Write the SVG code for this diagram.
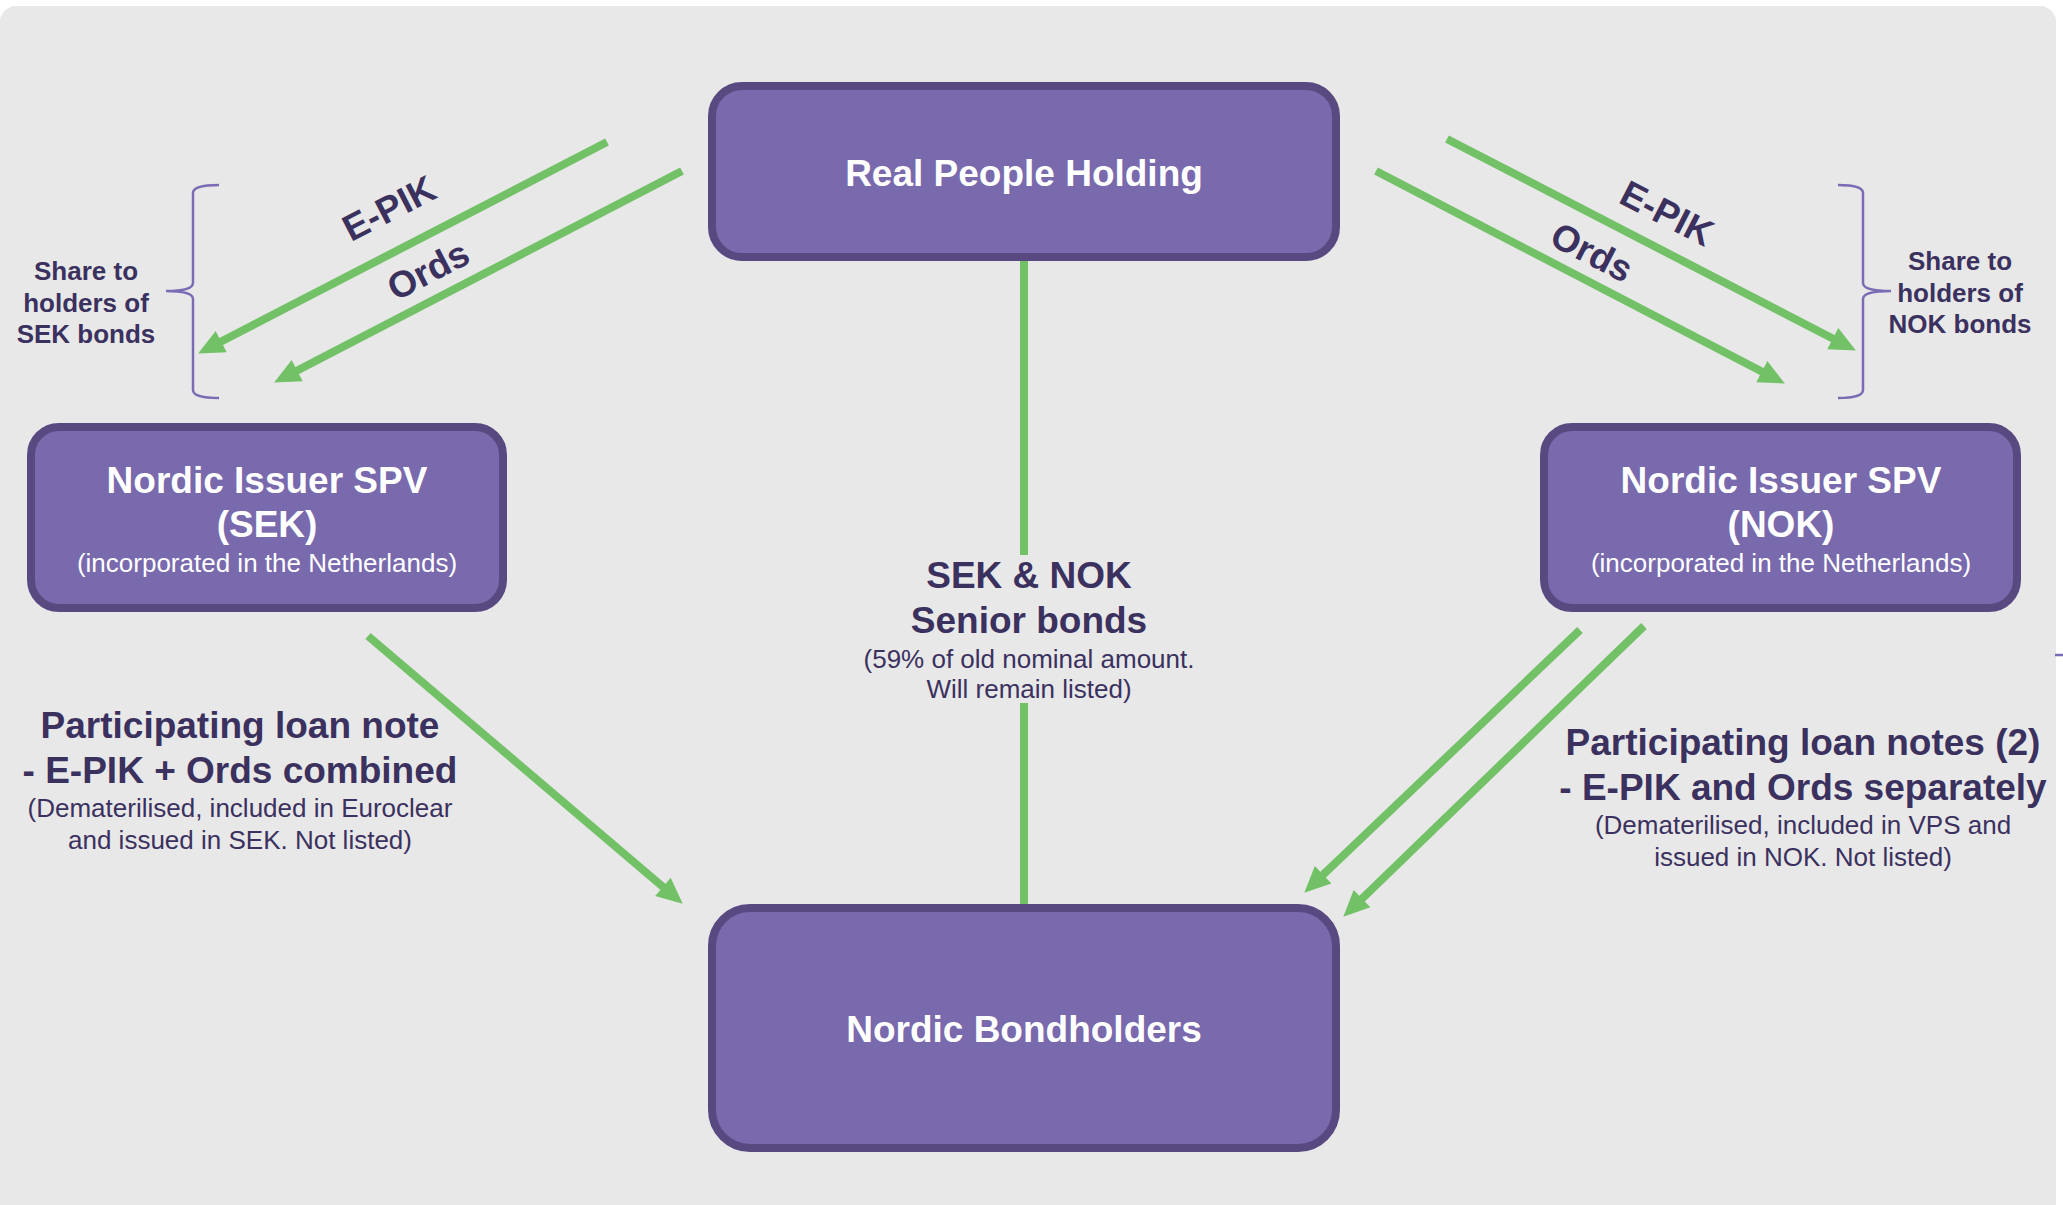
<svg xmlns="http://www.w3.org/2000/svg" width="2063" height="1205" viewBox="0 0 2063 1205">
  <defs>
    <style>
      .node rect { fill: #7969ad; stroke: #584a80; stroke-width: 8; }
      .ntitle { font-family: "Liberation Sans", Arial, sans-serif; font-weight: bold; font-size: 37px; fill: #ffffff; text-anchor: middle; }
      .nsub { font-family: "Liberation Sans", Arial, sans-serif; font-size: 26px; fill: #ffffff; text-anchor: middle; }
      .lbl { font-family: "Liberation Sans", Arial, sans-serif; font-weight: bold; font-size: 37px; fill: #3b315f; text-anchor: middle; }
      .lsub { font-family: "Liberation Sans", Arial, sans-serif; font-size: 26px; fill: #3b315f; text-anchor: middle; }
      .side { font-family: "Liberation Sans", Arial, sans-serif; font-weight: bold; font-size: 26px; fill: #3b315f; text-anchor: middle; }
      .flow { stroke: #72c167; stroke-width: 8; fill: none; }
      .arrow { marker-end: url(#head); }
      .brace { stroke: #7b6bb5; stroke-width: 2.5; fill: none; }
    </style>
    <marker id="head" markerUnits="userSpaceOnUse" markerWidth="27" markerHeight="26" refX="1" refY="13" orient="auto" overflow="visible">
      <path d="M0,1 L26,13 L0,25 Z" fill="#72c167"/>
    </marker>
  </defs>

  <!-- page background and grey panel -->
  <rect x="0" y="0" width="2063" height="1205" fill="#ffffff"/>
  <rect x="0" y="6" width="2056" height="1214" rx="16" fill="#e8e8e8"/>

  <!-- connectors -->
  <g id="connectors">
    <!-- senior bonds link, broken around its label -->
    <line class="flow" x1="1024" y1="255" x2="1024" y2="555"/>
    <line class="flow" x1="1024" y1="703" x2="1024" y2="908"/>

    <!-- share distribution, SEK side -->
    <line class="flow arrow" x1="607" y1="142" x2="220.3" y2="342"/>
    <line class="flow arrow" x1="682" y1="171" x2="296.3" y2="371"/>

    <!-- share distribution, NOK side -->
    <line class="flow arrow" x1="1447" y1="139" x2="1833.7" y2="339"/>
    <line class="flow arrow" x1="1376" y1="171" x2="1762.7" y2="372"/>

    <!-- loan notes to bondholders -->
    <line class="flow arrow" x1="368" y1="636" x2="663.7" y2="887.5"/>
    <line class="flow arrow" x1="1580" y1="630" x2="1322.4" y2="875.4"/>
    <line class="flow arrow" x1="1644" y1="626" x2="1361.3" y2="899.3"/>

    <!-- arrow labels -->
    <text class="lbl" transform="translate(389 208) rotate(-27.3)" y="13">E-PIK</text>
    <text class="lbl" transform="translate(428 270) rotate(-27.4)" y="13">Ords</text>
    <text class="lbl" transform="translate(1667 213) rotate(27.3)" y="13">E-PIK</text>
    <text class="lbl" transform="translate(1592 252) rotate(27.4)" y="13">Ords</text>
  </g>

  <!-- braces with side notes -->
  <g id="brace-sek">
    <path class="brace" d="M219,185 Q193,185 193,193 L193,283 Q193,291 166,291 Q193,291 193,299 L193,390 Q193,398 219,398"/>
    <text class="side" x="86" y="280">Share to</text>
    <text class="side" x="86" y="312">holders of</text>
    <text class="side" x="86" y="343">SEK bonds</text>
  </g>
  <g id="brace-nok">
    <path class="brace" d="M1838,185 Q1863,185 1863,193 L1863,283 Q1863,291 1891,291 Q1863,291 1863,299 L1863,390 Q1863,398 1838,398"/>
    <text class="side" x="1960" y="270">Share to</text>
    <text class="side" x="1960" y="302">holders of</text>
    <text class="side" x="1960" y="333">NOK bonds</text>
  </g>

  <!-- nodes -->
  <g id="real-people-holding" class="node">
    <rect x="712" y="86" width="624" height="171" rx="30"/>
    <text class="ntitle" x="1024" y="186">Real People Holding</text>
  </g>

  <g id="spv-sek" class="node">
    <rect x="31" y="427" width="472" height="181" rx="28"/>
    <text class="ntitle" x="267" y="493">Nordic Issuer SPV</text>
    <text class="ntitle" x="267" y="537">(SEK)</text>
    <text class="nsub" x="267" y="572">(incorporated in the Netherlands)</text>
  </g>

  <g id="spv-nok" class="node">
    <rect x="1544" y="427" width="473" height="181" rx="28"/>
    <text class="ntitle" x="1781" y="493">Nordic Issuer SPV</text>
    <text class="ntitle" x="1781" y="537">(NOK)</text>
    <text class="nsub" x="1781" y="572">(incorporated in the Netherlands)</text>
  </g>

  <g id="nordic-bondholders" class="node">
    <rect x="712" y="908" width="624" height="240" rx="38"/>
    <text class="ntitle" x="1024" y="1042">Nordic Bondholders</text>
  </g>

  <!-- free-standing annotations -->
  <g id="senior-bonds-note">
    <text class="lbl" x="1029" y="588">SEK &amp; NOK</text>
    <text class="lbl" x="1029" y="633">Senior bonds</text>
    <text class="lsub" x="1029" y="668">(59% of old nominal amount.</text>
    <text class="lsub" x="1029" y="698">Will remain listed)</text>
  </g>

  <g id="sek-loan-note">
    <text class="lbl" x="240" y="738">Participating loan note</text>
    <text class="lbl" x="240" y="783">- E-PIK + Ords combined</text>
    <text class="lsub" x="240" y="817">(Dematerilised, included in Euroclear</text>
    <text class="lsub" x="240" y="849">and issued in SEK. Not listed)</text>
  </g>

  <g id="nok-loan-notes">
    <text class="lbl" x="1803" y="755">Participating loan notes (2)</text>
    <text class="lbl" x="1803" y="800">- E-PIK and Ords separately</text>
    <text class="lsub" x="1803" y="834">(Dematerilised, included in VPS and</text>
    <text class="lsub" x="1803" y="866">issued in NOK. Not listed)</text>
  </g>

  <!-- small tick at the panel edge -->
  <line x1="2055" y1="655" x2="2063" y2="655" stroke="#7b6bb5" stroke-width="2.5"/>
</svg>
